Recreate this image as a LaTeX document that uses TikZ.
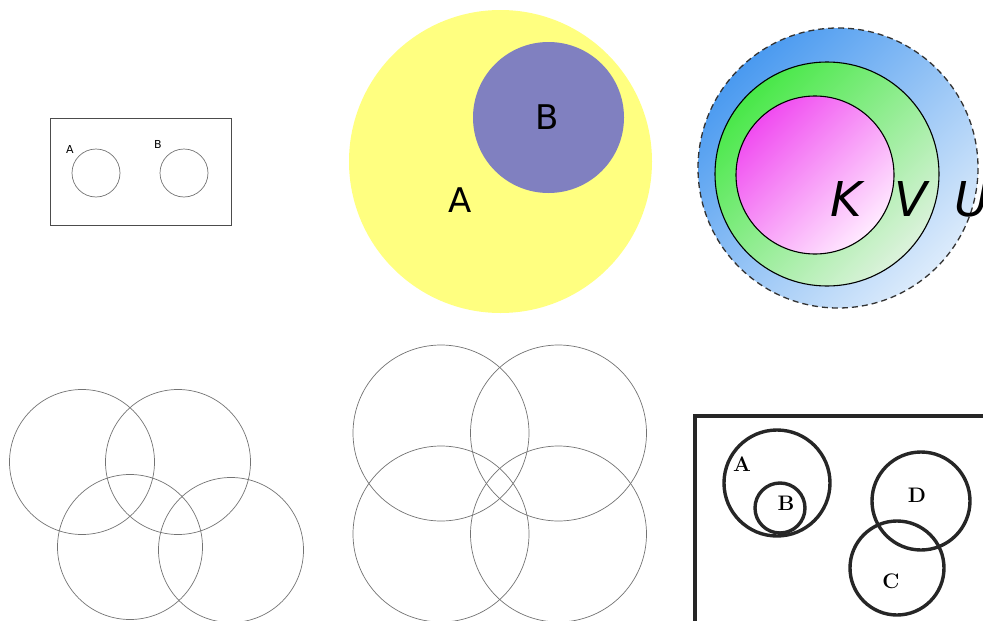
\documentclass[tikz,border=0pt]{standalone}
\usepackage{fontspec}
\setsansfont{DejaVu Sans}

\definecolor{setyellow}{HTML}{FFFF80}
\definecolor{setpurple}{HTML}{8080C0}
\definecolor{ublue}{HTML}{4A9AF0}
\definecolor{ubluelight}{HTML}{DCEBFB}
\definecolor{vgreen}{HTML}{48E848}
\definecolor{vgreenlight}{HTML}{DCF2DC}
\definecolor{kpink}{HTML}{F04CF0}
\definecolor{kpinklight}{HTML}{FFEAFF}

\begin{document}
\begin{tikzpicture}[x=1pt, y=-1pt,
    thinset/.style={draw=black!55, line width=0.7pt},
    inkset/.style={draw=black!85, line width=3.4pt},
    smalllabel/.style={font=\sffamily\fontsize{11}{11}\selectfont, inner sep=0pt},
    biglabel/.style={font=\sffamily\fontsize{34}{34}\selectfont, inner sep=0pt},
    setlabel/.style={font=\sffamily\itshape\fontsize{48}{48}\selectfont, inner sep=0pt},
    inklabel/.style={font=\bfseries\fontsize{21}{21}\selectfont, inner sep=0pt}]
\useasboundingbox (0,0) rectangle (983,621);

% two disjoint sets in a box
\draw[draw=black!70, line width=0.7pt] (50,118) rectangle (231,225);
\draw[thinset] (96,173) circle[radius=24];
\draw[thinset] (184,173) circle[radius=24];
\node[smalllabel] (a1) at (70,149) {A};
\node[smalllabel] (b1) at (158,144) {B};

% subset
\fill[setyellow] (500.5,161.5) circle[radius=151.5];
\fill[setpurple] (548.5,117.5) circle[radius=75.5];
\node[biglabel] (b2) at (547,117) {B};
\node[biglabel] (a2) at (460,200) {A};

% nested sets K, V, U
\shade[top color=ublue, bottom color=ubluelight, shading angle=45] (838,168) circle[radius=140];
\draw[black!80, line width=1.3pt, dash pattern=on 6pt off 4pt] (838,168) circle[radius=140];
\shade[top color=vgreen, bottom color=vgreenlight, shading angle=45] (827,174) circle[radius=112];
\draw[black, line width=1.1pt] (827,174) circle[radius=112];
\shade[top color=kpink, bottom color=kpinklight, shading angle=45] (815,175) circle[radius=79];
\draw[black, line width=1.1pt] (815,175) circle[radius=79];
\node[setlabel] (k) at (846,199) {K};
\node[setlabel] (v) at (911,199) {V};
\node[setlabel] (u) at (972,199) {U};

% four sets, staggered
\draw[thinset] (82,462) circle[radius=72.5];
\draw[thinset] (178,462) circle[radius=72.5];
\draw[thinset] (130,547) circle[radius=72.5];
\draw[thinset] (231,550) circle[radius=72.5];

% four sets, square
\draw[thinset] (441,433) circle[radius=88];
\draw[thinset] (558.5,433) circle[radius=88];
\draw[thinset] (441,534) circle[radius=88];
\draw[thinset] (558.5,534) circle[radius=88];

% inked sets A, B, C, D
\draw[black!85, line width=4pt] (695,625) |- (990,416);
\draw[inkset] (777,483) circle[radius=53];
\draw[inkset] (780,508) circle[radius=25];
\draw[inkset] (921,501) circle[radius=49];
\draw[inkset] (897,568) circle[radius=47];
\node[inklabel] (a3) at (742,464) {A};
\node[inklabel] (b3) at (786,503) {B};
\node[inklabel] (d3) at (917,495) {D};
\node[inklabel] (c3) at (891,581) {C};
\end{tikzpicture}
\end{document}
